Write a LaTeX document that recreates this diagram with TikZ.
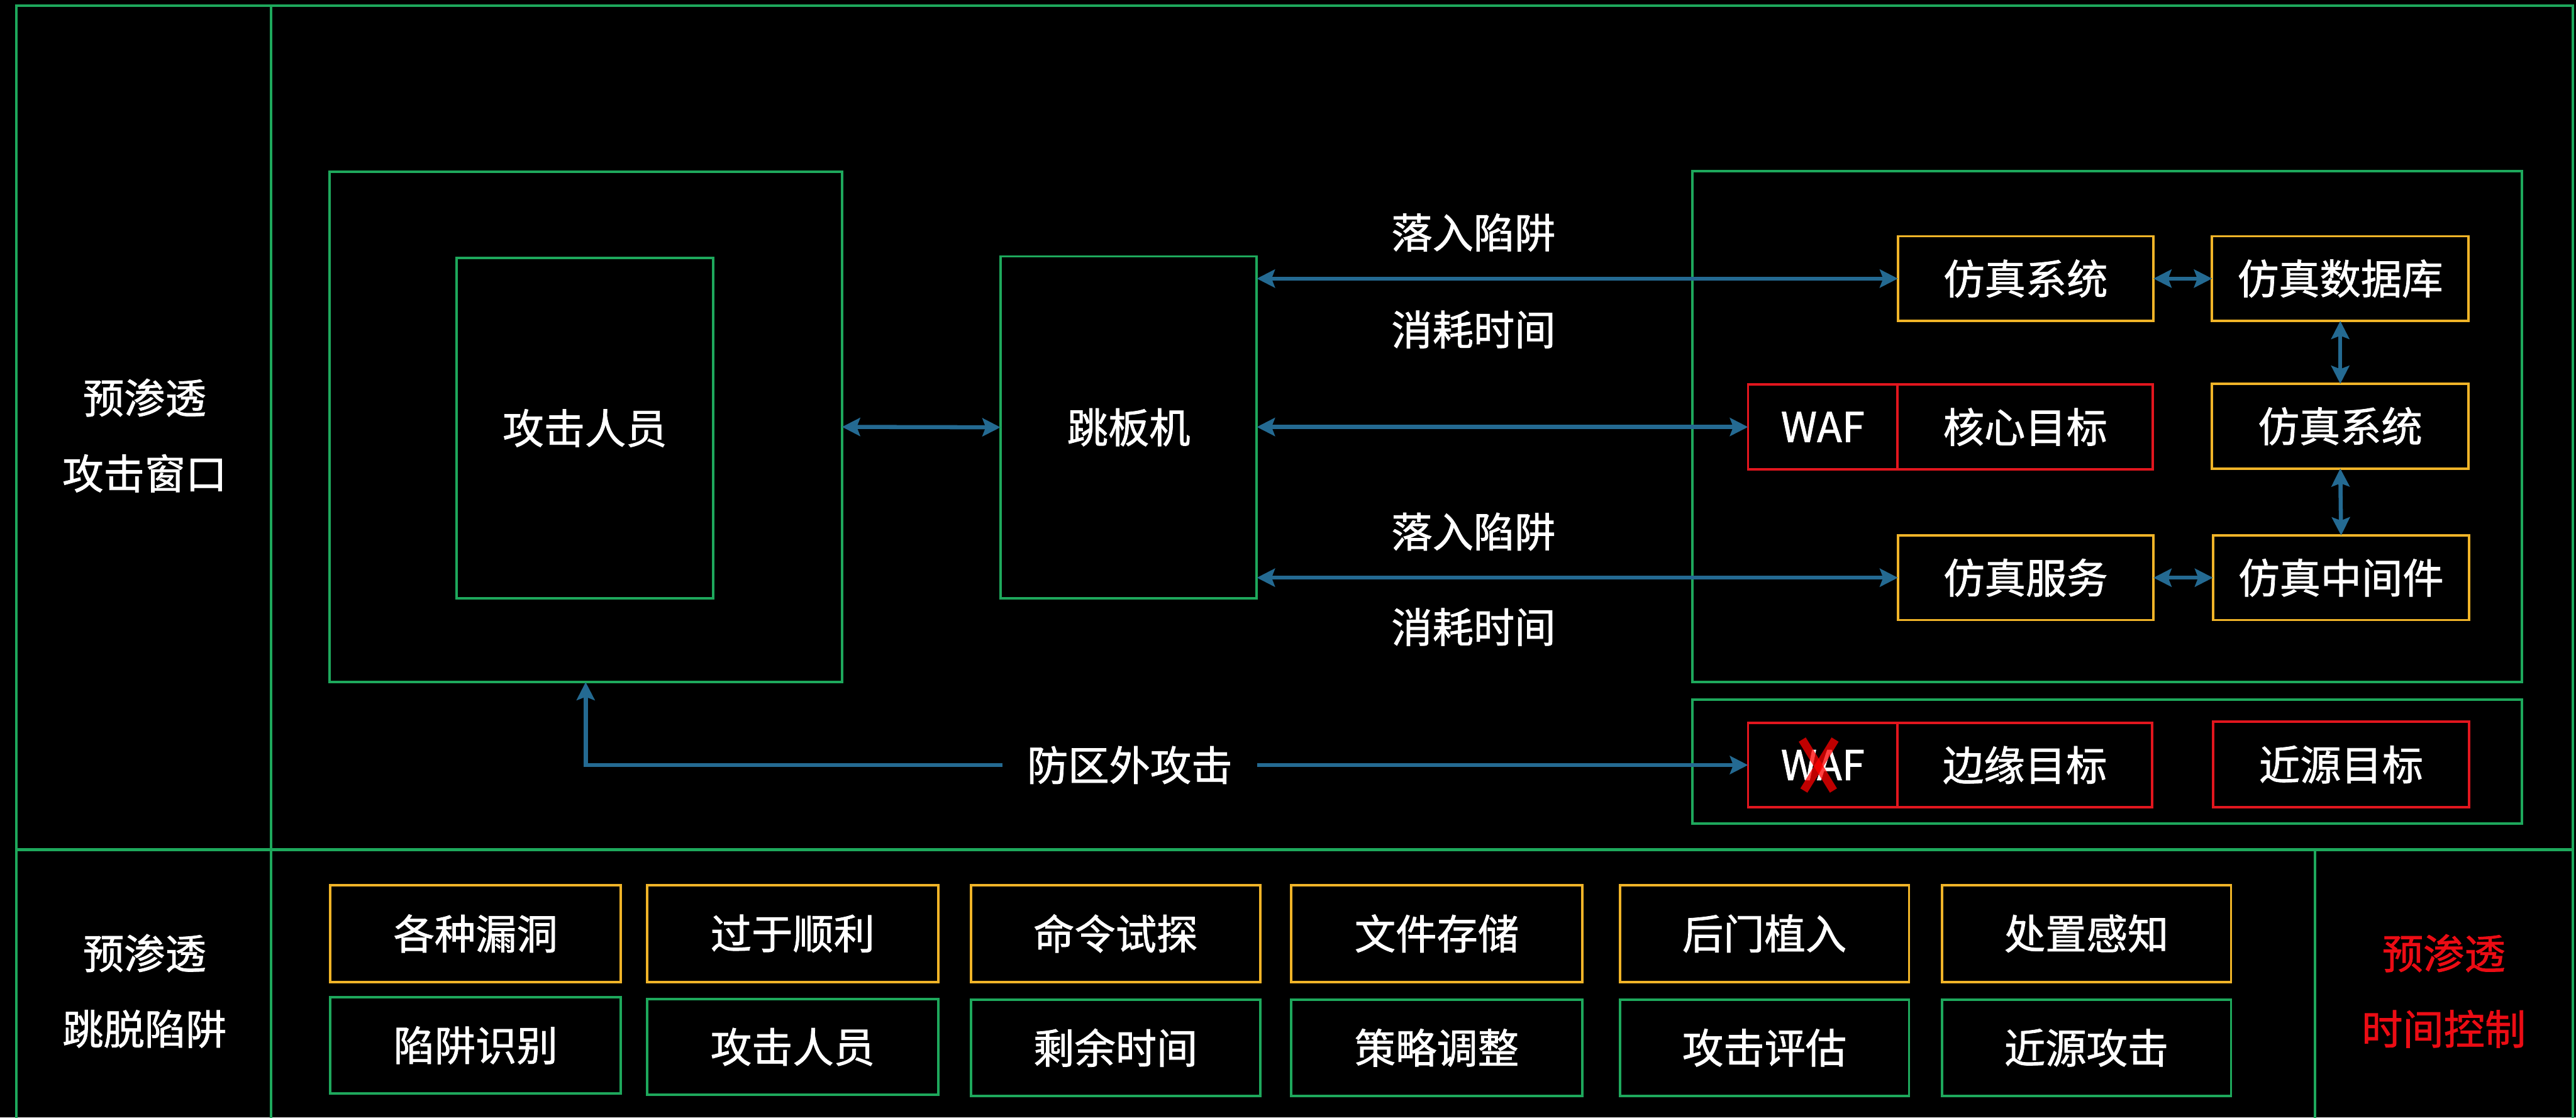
\documentclass[tikz,border=0pt]{standalone}
\usepackage{fontspec}
\setmainfont{Noto Sans CJK SC}[FakeBold=1.2]
\usetikzlibrary{arrows.meta,calc}
\definecolor{gline}{RGB}{30,168,92}
\definecolor{obox}{RGB}{240,180,40}
\definecolor{rbox}{RGB}{226,22,30}
\definecolor{rtext}{RGB}{236,12,20}
\definecolor{barrow}{RGB}{36,106,146}
\begin{document}
\begin{tikzpicture}[x=1pt,y=-1pt,
  every node/.style={font=\fontsize{25}{46}\selectfont, text=white, inner sep=0pt, outer sep=0pt},
  frame/.style={draw=gline, line width=1.6pt},
  gbx/.style={draw=gline, line width=1.5pt},
  obx/.style={draw=obox, line width=1.5pt},
  rbx/.style={draw=rbox, line width=1.5pt},
  sz/.style 2 args={minimum width=#1pt, minimum height=#2pt},
  arr/.style={draw=barrow, line width=2.5pt,
    {Stealth[length=11pt,width=11pt,inset=2pt]}-{Stealth[length=11pt,width=11pt,inset=2pt]}},
  lbl/.style={align=center},
  xmark/.style={draw=red, opacity=0.75, line width=5pt}
]
% background and bounding box
\fill[black] (0,0) rectangle (1568,680);
\useasboundingbox (0,0) rectangle (1568,680);

% frame lines
\draw[frame] (10,681) -- (10,3.5) -- (1566,3.5) -- (1566,681);
\draw[frame] (165,3.5) -- (165,681);
\draw[frame] (10,517) -- (1566,517);
\draw[frame] (1409,517) -- (1409,681);

% side labels
\node[lbl] (lblA) at (88,265) {预渗透\\攻击窗口};
\node[lbl] (lblB) at (88,603) {预渗透\\跳脱陷阱};
\node[lbl, text=rtext] (lblC) at (1487.5,603) {预渗透\\时间控制};

% top section boxes
\node[gbx, sz={312}{310.5}] (attOuter) at (356.5,259.75) {};
\node[gbx, sz={156}{207}] (attacker) at (356,260.5) {攻击人员};
\node[gbx, sz={156}{208}] (jump) at (687,260) {跳板机};
\node[gbx, sz={505}{311}] (rightBox) at (1282.5,259.5) {};

\node[obx, sz={155.5}{51.5}] (simSys1) at (1233,169.5) {仿真系统};
\node[obx, sz={156}{51.5}] (simDB) at (1424.5,169.5) {仿真数据库};
\node[rbx, sz={91}{51.5}] (WAF1) at (1109.5,259.8) {WAF};
\node[rbx, sz={155.5}{51.5}] (core) at (1232.75,259.8) {核心目标};
\node[obx, sz={156}{51.5}] (simSys2) at (1424.5,259.3) {仿真系统};
\node[obx, sz={155.5}{51.5}] (simSvc) at (1233,351.5) {仿真服务};
\node[obx, sz={156}{51.5}] (simMid) at (1425,351.5) {仿真中间件};

\node[gbx, sz={505}{75.5}] (edgeBox) at (1282.5,463.5) {};
\node[rbx, sz={91}{51.4}] (WAF2) at (1109.5,465.5) {WAF};
\node[rbx, sz={155}{51.4}] (edge) at (1232.5,465.5) {边缘目标};
\node[rbx, sz={155.5}{52}] (near) at (1425,465.2) {近源目标};

% WAF cross
\draw[xmark] ($(WAF2.center)+(-12.5,-15.5)$) -- ($(WAF2.center)+(6.5,15.5)$);
\draw[xmark] ($(WAF2.center)+(7.5,-15.5)$) -- ($(WAF2.center)+(-11.5,15.5)$);

% connectors
\draw[arr] (attOuter.east) -- (jump.west);
\draw[arr] (jump.east |- simSys1.west) -- (simSys1.west)
  node[pos=0.338, yshift=28pt] (trap1) {落入陷阱}
  node[pos=0.338, yshift=-31pt] (cost1) {消耗时间};
\draw[arr] (jump.east |- WAF1.west) -- (WAF1.west);
\draw[arr] (jump.east |- simSvc.west) -- (simSvc.west)
  node[pos=0.338, yshift=28pt] (trap2) {落入陷阱}
  node[pos=0.338, yshift=-30pt] (cost2) {消耗时间};
\draw[arr] (simSys1.east) -- (simDB.west);
\draw[arr] (simSvc.east) -- (simMid.west);
\draw[arr] (simDB.south) -- (simSys2.north);
\draw[arr] (simSys2.south) -- (simMid.north);
\draw[arr] (WAF2.west) -| (attOuter.south)
  node[pos=0.266, fill=black, inner xsep=15pt, inner ysep=4pt] (outside) {防区外攻击};

% bottom rows
\node[obx, sz={177}{59}] (b11) at (289.5,568) {各种漏洞};
\node[obx, sz={177}{59}] (b12) at (482.5,568) {过于顺利};
\node[obx, sz={176}{59}] (b13) at (679,568) {命令试探};
\node[obx, sz={177}{59}] (b14) at (874.5,568) {文件存储};
\node[obx, sz={176}{59}] (b15) at (1074,568) {后门植入};
\node[obx, sz={176}{59}] (b16) at (1270,568) {处置感知};

\node[gbx, sz={177}{58.5}] (b21) at (289.5,636) {陷阱识别};
\node[gbx, sz={177}{58.5}] (b22) at (482.5,637) {攻击人员};
\node[gbx, sz={176}{58.5}] (b23) at (679,637.5) {剩余时间};
\node[gbx, sz={177}{58.5}] (b24) at (874.5,637.5) {策略调整};
\node[gbx, sz={176}{58.5}] (b25) at (1074,637.5) {攻击评估};
\node[gbx, sz={176}{58.5}] (b26) at (1270,637.5) {近源攻击};
\end{tikzpicture}
\end{document}
